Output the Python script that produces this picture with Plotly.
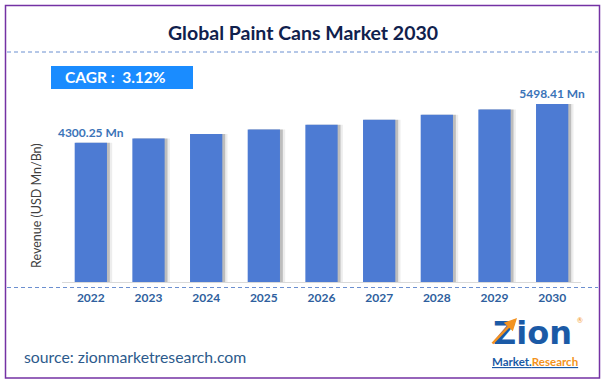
import plotly.graph_objects as go

years = ["2022", "2023", "2024", "2025", "2026", "2027", "2028", "2029", "2030"]
revenue = [4300.25, 4434.0, 4573.0, 4715.0, 4862.0, 5014.0, 5171.0, 5332.0, 5498.41]
value_labels = ["4300.25 Mn", "", "", "", "", "", "", "", "5498.41 Mn"]
title_text = "Global Paint Cans Market 2030"
cagr_text = "CAGR :  3.12%"
y_title = "Revenue (USD Mn/Bn)"
source_text = "source: zionmarketresearch.com"

W, H = 604, 384
FONT = "Lato"

def px(x):
    return x / W

def py(y):
    return (H - y) / H

def ann(text, x, y, size, color, bold=False, xanchor="center", angle=0, family=FONT):
    return dict(text=text, xref="paper", yref="paper", x=px(x), y=py(y),
                xanchor=xanchor, yanchor="middle", textangle=angle, showarrow=False,
                font=dict(family=family, size=size, color=color,
                          weight="bold" if bold else "normal"))

fig = go.Figure()

# soft shadows
fig.add_trace(go.Bar(x=years, y=revenue, width=0.62, offset=-0.25,
                     marker=dict(color="rgba(0,0,0,0.07)", line=dict(width=0)),
                     hoverinfo="skip", showlegend=False))
fig.add_trace(go.Bar(x=years, y=revenue, width=0.59, offset=-0.26,
                     marker=dict(color="rgba(0,0,0,0.2)", line=dict(width=0)),
                     hoverinfo="skip", showlegend=False))
fig.add_trace(go.Bar(x=years, y=revenue, width=0.56, offset=-0.28,
                     marker=dict(color="#4d7bd3", line=dict(width=0)),
                     text=value_labels, textposition="outside", cliponaxis=False,
                     constraintext="none",
                     textfont=dict(family=FONT, size=12, color="#3b74b8", weight="bold"),
                     showlegend=False))

dash_line = dict(color="#6b8fd0", width=1, dash="4px,3px")

fig.update_layout(
    width=W, height=H,
    margin=dict(l=0, r=0, t=0, b=0),
    paper_bgcolor="white", plot_bgcolor="white",
    barmode="overlay",
    xaxis=dict(domain=[px(62), px(581)], showgrid=False, showline=True,
               linecolor="#d9d9d9", linewidth=1, ticks="", zeroline=False,
               tickfont=dict(family=FONT, size=12, color="#2f5f9e", weight="bold"),
               ticklabelstandoff=5),
    yaxis=dict(domain=[py(282), py(60)], range=[0, 6860], showgrid=False,
               showticklabels=False, zeroline=False, showline=False),
    shapes=[
        dict(type="rect", xref="paper", yref="paper", x0=px(5.5), x1=px(599.5),
             y0=py(378), y1=py(5.5), line=dict(color="#7432a4", width=1.5)),
        dict(type="line", xref="paper", yref="paper", x0=px(7), x1=px(598),
             y0=py(52), y1=py(52), line=dash_line),
        dict(type="line", xref="paper", yref="paper", x0=px(7), x1=px(598),
             y0=py(287.5), y1=py(287.5), line=dash_line),
        dict(type="rect", xref="paper", yref="paper", x0=px(51), x1=px(193),
             y0=py(89), y1=py(66), fillcolor="#1a8cff", line=dict(width=0)),
    ],
    annotations=[
        ann(title_text, 303, 32, 19.5, "#10214d", bold=True),
        ann(cagr_text, 63, 77.5, 15.5, "white", bold=True, xanchor="left"),
        ann(y_title, 37, 206, 12.5, "#404040", angle=-90),
        ann(source_text, 22, 356, 15.8, "#2c5a8c", xanchor="left"),
        ann("Zion", 532, 333, 32, "#1b5aa6", bold=True, family="DejaVu Sans"),
        ann("<u>Market.</u><u><span style='color:#f39220'>Research</span></u>",
            535, 361, 11.5, "#1b5aa6", bold=True),
        ann("®", 580, 320, 7, "#f39220"),
        dict(x=px(517), y=py(318), ax=-26, ay=27, xref="paper", yref="paper",
             axref="pixel", ayref="pixel", text="", showarrow=True, arrowhead=2,
             arrowsize=1, arrowwidth=2.5, arrowcolor="#f39220"),
    ],
)

fig.write_html("out.html", post_script="document.body.style.margin='0';",
               config={"displayModeBar": False})
